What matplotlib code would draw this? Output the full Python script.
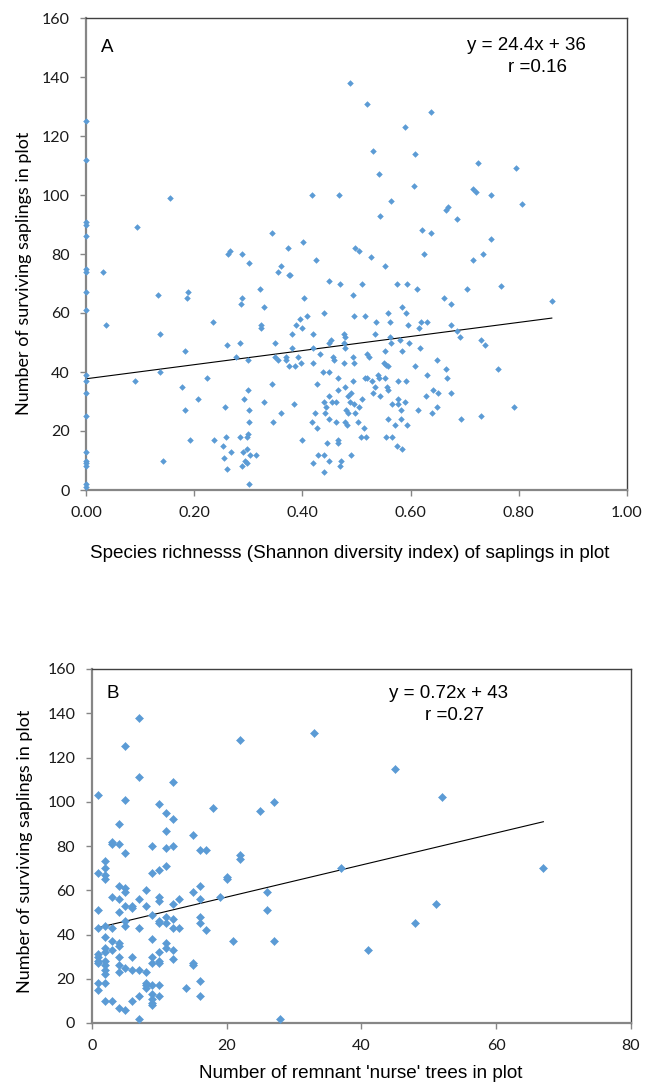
import matplotlib
matplotlib.use('Agg')
import matplotlib.pyplot as plt

# ---- panel A: Shannon index of saplings vs surviving saplings ----
shannon = [0, 0, 0, 0, 0, 0, 0, 0, 0, 0, 0, 0, 0, 0, 0, 0, 0, 0, 0,
           0.094, 0.156, 0.417, 0.262, 0.266, 0.288, 0.343, 0.374, 0.401, 0.425,
           0.031, 0.037, 0.133, 0.136, 0.137, 0.142, 0.091, 0.177, 0.183, 0.183,
           0.186, 0.189, 0.193, 0.207, 0.224, 0.234, 0.237, 0.253, 0.255, 0.257,
           0.258, 0.261, 0.261, 0.268, 0.277, 0.284, 0.284, 0.286, 0.289, 0.288,
           0.291, 0.292, 0.294, 0.298, 0.298, 0.298, 0.299, 0.299, 0.300, 0.302,
           0.302, 0.302, 0.302, 0.303, 0.314, 0.322, 0.323, 0.323, 0.329, 0.329,
           0.343, 0.346, 0.349, 0.349, 0.354, 0.355, 0.360, 0.361, 0.369, 0.369,
           0.375, 0.378, 0.376, 0.381, 0.380, 0.385, 0.386, 0.388, 0.391, 0.396,
           0.398, 0.400, 0.400, 0.403, 0.408, 0.417, 0.420, 0.420, 0.420, 0.420,
           0.423, 0.427, 0.427, 0.428, 0.432,
           0.488, 0.520, 0.637, 0.589, 0.530, 0.608, 0.725, 0.795, 0.541, 0.467,
           0.606, 0.564, 0.716, 0.721, 0.749, 0.805, 0.543, 0.665, 0.670, 0.686,
           0.621, 0.638, 0.749, 0.497, 0.505, 0.527, 0.625, 0.715, 0.734,
           0.553, 0.449, 0.470, 0.510, 0.575, 0.593, 0.611, 0.704, 0.768, 0.494,
           0.662, 0.675, 0.861, 0.440, 0.496, 0.515, 0.584, 0.591, 0.559, 0.536,
           0.562, 0.596, 0.620, 0.631, 0.616, 0.674, 0.686, 0.691, 0.730, 0.738,
           0.534, 0.561, 0.563, 0.580, 0.597, 0.618, 0.585, 0.553, 0.477, 0.479,
           0.476, 0.478, 0.449, 0.452, 0.457, 0.459, 0.477, 0.494, 0.496, 0.520,
           0.524, 0.649, 0.608, 0.551, 0.555, 0.559, 0.665, 0.761, 0.438, 0.449,
           0.466, 0.494, 0.516, 0.519, 0.528, 0.539, 0.542, 0.553, 0.577, 0.591,
           0.631, 0.668, 0.534, 0.557, 0.559, 0.466, 0.478, 0.490, 0.485, 0.450,
           0.511, 0.531, 0.544, 0.577, 0.641, 0.651, 0.628, 0.675, 0.440, 0.454,
           0.463, 0.488, 0.495, 0.505, 0.565, 0.577, 0.583, 0.590, 0.443, 0.441,
           0.481, 0.485, 0.497, 0.614, 0.648, 0.639, 0.792, 0.450, 0.462, 0.479,
           0.483, 0.502, 0.514, 0.558, 0.582, 0.572, 0.594, 0.693, 0.730, 0.446,
           0.466, 0.466, 0.508, 0.518, 0.554, 0.565, 0.575, 0.585, 0.440, 0.449,
           0.490, 0.472, 0.469, 0.440]
survivors_a = [125, 112, 91, 90, 86, 75, 74, 67, 61, 39, 37, 33, 25, 13, 10, 9, 8, 2, 1,
               89, 99, 100, 80, 81, 80, 87, 82, 84, 78,
               74, 56, 66, 53, 40, 10, 37, 35, 27, 47,
               65, 67, 17, 31, 38, 57, 17, 15, 11, 28,
               18, 49, 7, 13, 45, 50, 18, 63, 65, 8,
               13, 31, 10, 9, 14, 18, 44, 34, 19, 27,
               23, 77, 2, 12, 12, 68, 56, 55, 62, 30,
               36, 23, 50, 45, 74, 44, 76, 26, 45, 44,
               73, 73, 42, 48, 53, 29, 42, 56, 45, 58,
               43, 17, 55, 65, 59, 23, 53, 48, 43, 9,
               26, 21, 36, 12, 46,
               138, 131, 128, 123, 115, 114, 111, 109, 107, 100,
               103, 98, 102, 101, 100, 97, 93, 95, 96, 92,
               88, 87, 85, 82, 81, 79, 80, 78, 80,
               76, 71, 70, 70, 70, 70, 68, 68, 69, 66,
               65, 63, 64, 60, 59, 59, 62, 60, 60, 57,
               57, 56, 57, 57, 55, 56, 54, 52, 51, 49,
               53, 52, 50, 51, 50, 48, 47, 47, 53, 52,
               50, 48, 50, 51, 45, 44, 43, 45, 43, 46,
               45, 44, 42, 43, 42.5, 42, 41, 41, 40, 40,
               38, 37, 38, 38, 37, 39, 38, 38, 37, 37,
               39, 38, 35, 35, 34, 34, 35, 33, 32, 32,
               31, 33, 32, 31, 34, 33, 32, 33, 30, 30,
               30, 30, 29, 28, 29, 29, 27, 30, 28, 26,
               27, 26, 26, 27, 28, 26, 28, 24, 23, 23,
               22, 23, 21, 24, 24, 22, 22, 24, 25, 16,
               17, 16, 18, 18, 18, 18, 15, 14, 12, 10,
               12, 10, 8, 6]
fit_a = (23.9, 37.7)   # slope, intercept of the drawn trend line

# ---- panel B: remnant nurse trees vs surviving saplings ----
nurse_trees = [1, 7, 5, 7, 5, 12, 22, 33, 10, 11,
               12, 11, 18, 25, 27, 4, 3, 3, 4, 5,
               2, 9, 11, 12, 15, 16, 17, 22, 22, 11,
               2, 10,
               45, 52, 37, 67, 51, 48, 41,
               2, 2, 1, 9, 4, 5, 5, 3, 4, 7,
               8, 10, 10, 13, 12, 15, 16, 16, 19, 20,
               20, 26, 26, 1, 5, 6, 6, 8, 4, 9,
               11, 12, 16, 5, 5, 2, 1, 3, 7, 10,
               10, 11, 12, 13, 16, 17, 2, 9, 3, 4,
               4, 21, 27, 2, 3, 11, 11, 12, 10, 2,
               1, 1, 4, 6, 9, 12, 1, 1, 2, 2,
               2, 2, 10, 10, 9, 15, 15, 4, 5, 4,
               6, 7, 8, 1, 2, 8, 8, 8, 9, 10,
               16, 14, 1, 2, 3, 6, 7, 9, 9, 9,
               9, 10, 16, 4, 5, 7, 28]
survivors_b = [103, 138, 125, 111, 101, 109, 128, 131, 99, 95,
               92, 87, 97, 96, 100, 90, 82, 81, 81, 77,
               73, 80, 79, 80, 85, 78, 78, 76, 74, 71,
               70, 69,
               115, 102, 70, 70, 54, 45, 33,
               67, 65, 68, 68, 62, 61, 59, 57, 56, 56,
               60, 57, 55, 56, 54, 59, 62, 56, 57, 66,
               65, 59, 51, 51, 53, 53, 52, 53, 50, 49,
               48, 47, 48, 46, 44, 44, 43, 43, 43, 45,
               46, 45, 43, 43, 45, 42, 39, 38, 37, 36,
               35, 37, 37, 34, 33, 36, 34, 33, 32, 32,
               31, 30, 30, 30, 30, 29, 28, 27, 28, 26,
               24, 22, 28, 27, 27, 27, 26, 26, 25, 23,
               24, 24, 23, 18, 18, 18, 17, 16, 17, 17,
               19, 16, 15, 10, 10, 10, 12, 13, 11, 9,
               8, 12, 12, 7, 6, 2, 2]
fit_b = (0.725, 42.4)

blue = '#5B9BD5'
tick_font = 'Lato'
text_font = ['Liberation Sans', 'DejaVu Sans']

fig = plt.figure(figsize=(6.56, 10.85), dpi=100)
axA = fig.add_axes([86 / 656, 1 - 490 / 1085, 541 / 656, 472 / 1085])
axB = fig.add_axes([91.7 / 656, 1 - 1023 / 1085, 539.3 / 656, 354 / 1085])


def style(ax):
    for side in ['left', 'bottom']:
        ax.spines[side].set_color('#868686')
        ax.spines[side].set_linewidth(1.6)
    for side in ['top', 'right']:
        ax.spines[side].set_color('#404040')
        ax.spines[side].set_linewidth(1.0)
    ax.tick_params(direction='out', length=4.3, width=1.0, color='#868686',
                   labelsize=11.5, pad=7.5)
    for lab in ax.get_xticklabels() + ax.get_yticklabels():
        lab.set_family(tick_font)
        lab.set_color('#1a1a1a')


# panel A
axA.plot(shannon, survivors_a, 'D', color=blue, ms=2.9, mew=0.4, clip_on=False, zorder=3)
xa = [0, max(shannon)]
axA.plot(xa, [fit_a[1] + fit_a[0] * v for v in xa], color='black', lw=0.8)
axA.set_xlim(0, 1.0)
axA.set_ylim(0, 160)
axA.set_xticks([0, 0.2, 0.4, 0.6, 0.8, 1.0])
axA.set_xticklabels(['0.00', '0.20', '0.40', '0.60', '0.80', '1.00'])
axA.set_yticks(range(0, 161, 20))
style(axA)

# panel B
axB.plot(nurse_trees, survivors_b, 'D', color=blue, ms=3.9, mew=0.4, clip_on=False, zorder=3)
xb = [min(nurse_trees), max(nurse_trees)]
axB.plot(xb, [fit_b[1] + fit_b[0] * v for v in xb], color='black', lw=0.8)
axB.set_xlim(0, 80)
axB.set_ylim(0, 160)
axB.set_xticks(range(0, 81, 20))
axB.set_yticks(range(0, 161, 20))
style(axB)


def put(x, y, s, **kw):
    fig.text(x / 656, 1 - y / 1085, s, ha='center', va='center', **kw)


put(107, 47, 'A', family=text_font, fontsize=13.5)
put(526, 46, 'y = 24.4x + 36', family=text_font, fontsize=13.5)
put(537, 68, 'r =0.16', family=text_font, fontsize=13.5)
put(113, 693, 'B', family=text_font, fontsize=13.5)
put(448, 693, 'y = 0.72x + 43', family=text_font, fontsize=13.5)
put(455, 715, 'r =0.27', family=text_font, fontsize=13.5)

put(24, 273, 'Number of surviving saplings in plot', family=tick_font,
    fontsize=13, rotation=90)
put(25, 851, 'Number of surviving saplings in plot', family=tick_font,
    fontsize=13, rotation=90)
put(350, 553, 'Species richnesss (Shannon diversity index) of saplings in plot',
    family=text_font, fontsize=13.6)
put(361, 1074, "Number of remnant 'nurse' trees in plot", family=text_font, fontsize=13.6)

fig.savefig('out.png', dpi=100)
